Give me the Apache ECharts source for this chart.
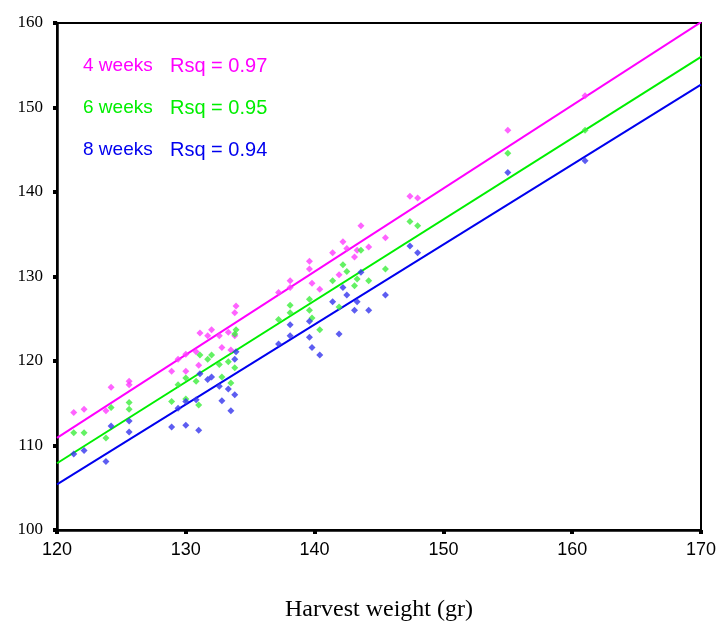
<!DOCTYPE html>
<html>
<head>
<meta charset="utf-8">
<script src="https://cdn.jsdelivr.net/npm/echarts@6/dist/echarts.min.js"></script>
<style>
  html, body { margin: 0; padding: 0; background: #fff; }
  #chart { width: 717px; height: 623px; }
</style>
</head>
<body>
<div id="chart"></div>
<script>
// harvest weight (gr) of each sample
var weight = [121.3, 122.1, 123.8, 124.2, 125.6, 125.6, 128.9, 129.4, 130.0, 130.0,
    130.8, 131.1, 131.0, 131.7, 132.0, 132.6, 132.8, 133.3, 133.5, 133.8,
    133.8, 133.9, 137.2, 138.1, 138.1, 139.6, 139.6, 139.8, 140.4, 141.4,
    141.9, 142.2, 142.5, 143.6, 143.1, 143.3, 144.2, 145.5, 147.4, 148.0,
    155.0, 161.0];
var wk4 = [113.9, 114.3, 114.1, 116.9, 117.6, 117.2, 118.8, 120.2, 120.8, 118.8,
    121.1, 123.3, 119.5, 123.0, 123.7, 123.0, 121.6, 123.4, 121.3, 123.0,
    125.7, 126.5, 128.1, 129.5, 128.7, 131.8, 130.9, 129.2, 128.5, 132.8,
    130.2, 134.1, 133.3, 136.0, 132.3, 133.1, 133.5, 134.6, 139.5, 139.3,
    147.3, 151.4];
var wk6 = [111.5, 111.5, 110.9, 114.5, 115.1, 114.3, 115.2, 117.2, 118.0, 115.5,
    117.6, 120.7, 114.8, 120.2, 120.7, 119.6, 118.1, 119.9, 117.4, 119.2,
    123.2, 123.7, 124.9, 126.6, 125.7, 127.3, 126.0, 125.1, 123.7, 129.5,
    126.4, 131.4, 130.6, 133.1, 128.9, 129.7, 129.5, 130.9, 136.5, 136.0,
    144.6, 147.3];
var wk8 = [109.0, 109.4, 108.1, 112.3, 112.9, 111.6, 112.2, 114.4, 115.2, 112.4,
    115.4, 118.5, 111.8, 117.8, 118.1, 117.0, 115.3, 116.7, 114.1, 116.0,
    120.2, 121.1, 122.0, 124.3, 123.0, 124.7, 122.8, 121.6, 120.7, 127.0,
    123.2, 128.7, 127.8, 130.5, 126.0, 127.0, 126.0, 127.8, 133.6, 132.8,
    142.3, 143.7];

// fitted lines, read at both ends of the x axis
var fitX = [120, 170];
var fit4 = [110.9, 160.1];
var fit6 = [107.9, 156.0];
var fit8 = [105.4, 152.7];

var groups = ['4 weeks', '6 weeks', '8 weeks'];
var rsq = ['0.97', '0.95', '0.94'];
var lineColors = ['#ff00ff', '#00ee00', '#0000ee'];
var dotColors = ['#ff3cff', '#3cee3c', '#3535ee'];

var chart = echarts.init(document.getElementById('chart'));

function pairs(xs, ys) {
    var res = [];
    for (var i = 0; i < xs.length; i++) res.push([xs[i], ys[i]]);
    return res;
}

var ySets = [wk4, wk6, wk8];
var fits = [fit4, fit6, fit8];
var series = [];
for (var k = 0; k < 3; k++) {
    series.push({
        name: groups[k],
        type: 'line',
        data: pairs(fitX, fits[k]),
        symbol: 'none',
        silent: true,
        lineStyle: { color: lineColors[k], width: 2 },
        z: 2
    });
    series.push({
        name: groups[k] + ' pts',
        type: 'scatter',
        data: pairs(weight, ySets[k]),
        symbol: 'diamond',
        symbolSize: 7,
        itemStyle: { color: dotColors[k] },
        z: 3
    });
}

var graphic = [];
for (var j = 0; j < 3; j++) {
    var ty = 67 + j * 42;
    graphic.push({
        type: 'text', left: 83, top: ty - 11,
        style: { text: groups[j], fill: lineColors[j], font: '19px "Liberation Sans", Arial, sans-serif' }
    });
    graphic.push({
        type: 'text', left: 170, top: ty - 11,
        style: { text: 'Rsq = ' + rsq[j], fill: lineColors[j], font: '20px "Liberation Sans", Arial, sans-serif' }
    });
}

chart.setOption({
    animation: false,
    grid: {
        left: 57, right: 16, top: 23, bottom: 93,
        outerBoundsMode: 'none',
        containLabel: false,
        show: true, borderColor: '#000', borderWidth: 2
    },
    xAxis: {
        type: 'value', min: 120, max: 170, interval: 10,
        name: 'Harvest weight (gr)',
        nameLocation: 'middle',
        nameGap: 68,
        nameTextStyle: { fontFamily: '"Liberation Serif", serif', fontSize: 24, color: '#000' },
        axisLine: { lineStyle: { color: '#000', width: 2.5 } },
        axisTick: { length: 4, lineStyle: { color: '#000', width: 4 } },
        axisLabel: { fontFamily: '"Liberation Sans", Arial, sans-serif', fontSize: 18, color: '#000', margin: 11 },
        splitLine: { show: false }
    },
    yAxis: {
        type: 'value', min: 100, max: 160, interval: 10,
        axisLine: { lineStyle: { color: '#000', width: 2.5 } },
        axisTick: { length: 4, lineStyle: { color: '#000', width: 4 } },
        axisLabel: { fontFamily: '"Liberation Serif", serif', fontSize: 17, color: '#000', margin: 14 },
        splitLine: { show: false }
    },
    graphic: graphic,
    series: series
});
</script>
</body>
</html>
